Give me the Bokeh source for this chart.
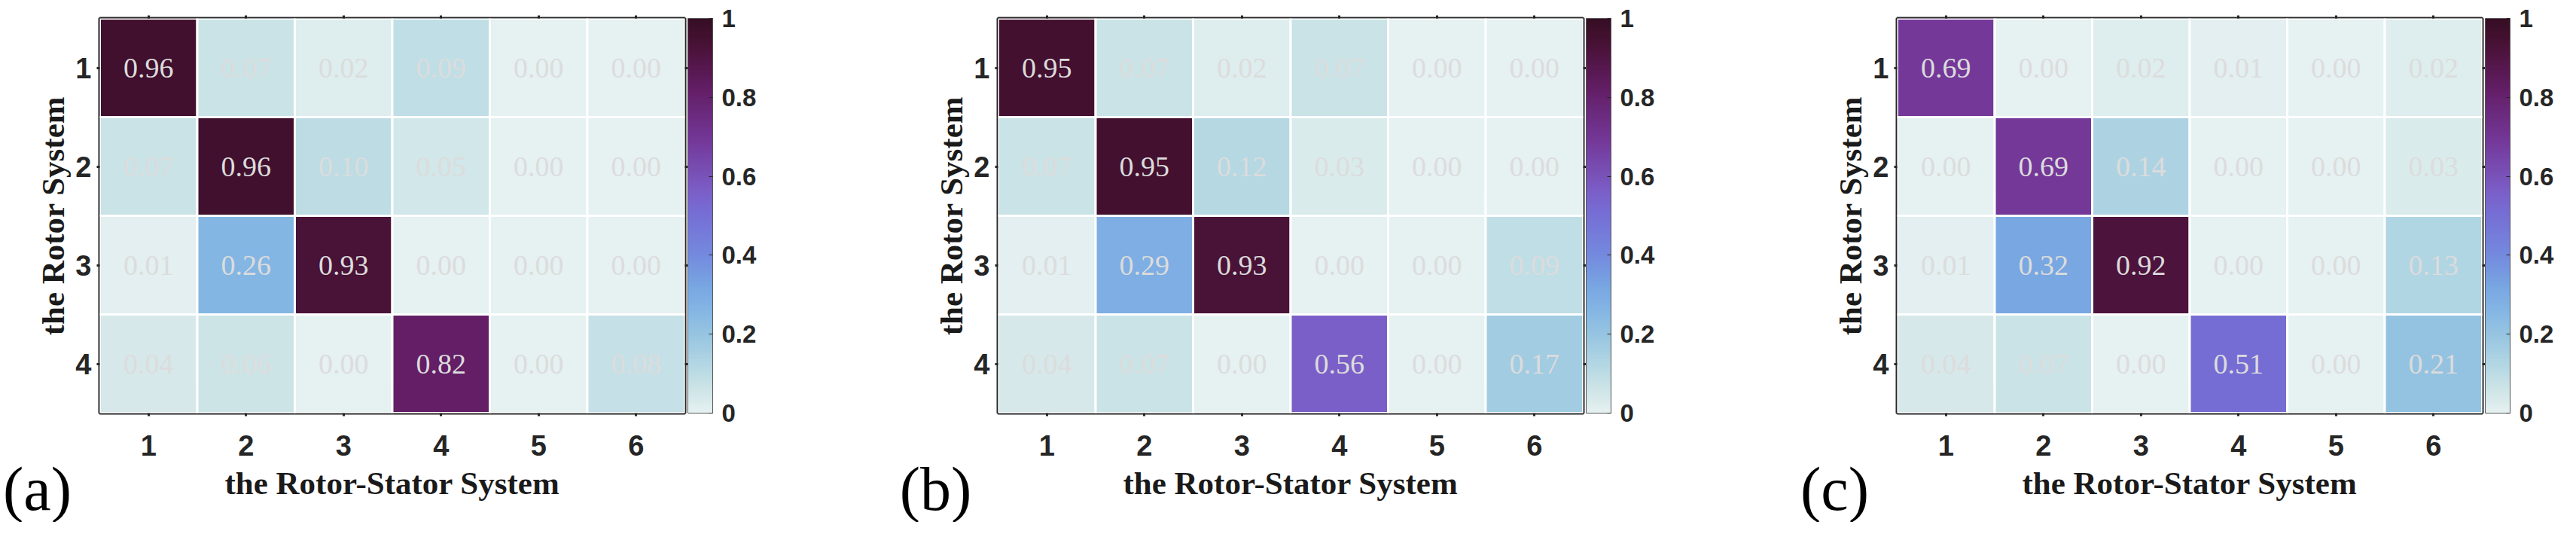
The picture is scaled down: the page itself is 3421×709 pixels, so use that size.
import numpy as np
from bokeh.plotting import figure
from bokeh.models import (ColumnDataSource, LinearColorMapper, ColorBar, FixedTicker,
                          LinearAxis, Range1d, NumeralTickFormatter)
from bokeh.layouts import row, column
from bokeh.transform import transform
from bokeh.core.properties import value
from bokeh.embed import file_html
from bokeh.resources import INLINE

# ---------------- data ----------------
stator_labels = ["1", "2", "3", "4", "5", "6"]   # x: the Rotor-Stator System
rotor_labels = ["1", "2", "3", "4"]              # y: the Rotor System

values_a = [
    [0.96, 0.07, 0.02, 0.09, 0.00, 0.00],
    [0.07, 0.96, 0.10, 0.05, 0.00, 0.00],
    [0.01, 0.26, 0.93, 0.00, 0.00, 0.00],
    [0.04, 0.06, 0.00, 0.82, 0.00, 0.08],
]
values_b = [
    [0.95, 0.07, 0.02, 0.07, 0.00, 0.00],
    [0.07, 0.95, 0.12, 0.03, 0.00, 0.00],
    [0.01, 0.29, 0.93, 0.00, 0.00, 0.09],
    [0.04, 0.07, 0.00, 0.56, 0.00, 0.17],
]
values_c = [
    [0.69, 0.00, 0.02, 0.01, 0.00, 0.02],
    [0.00, 0.69, 0.14, 0.00, 0.00, 0.03],
    [0.01, 0.32, 0.92, 0.00, 0.00, 0.13],
    [0.04, 0.07, 0.00, 0.51, 0.00, 0.21],
]
panel_tags = ["(a)", "(b)", "(c)"]
cbar_ticks = [0, 0.2, 0.4, 0.6, 0.8, 1]

# ---------------- colour map (approx. cmocean "dense") ----------------
stop_pos = [0.00, 0.05, 0.10, 0.15, 0.20, 0.26, 0.32, 0.40, 0.51, 0.56, 0.69, 0.82, 0.93, 0.96, 1.00]
stop_rgb = [(230, 241, 241), (209, 230, 232), (188, 220, 228), (168, 208, 226), (150, 196, 225),
            (132, 182, 228), (120, 166, 226), (116, 138, 222), (118, 109, 212), (123, 95, 200),
            (116, 56, 153), (99, 30, 102), (74, 18, 56), (65, 16, 46), (54, 14, 36)]
grid_t = np.linspace(0, 1, 256)
chan = [np.interp(grid_t, stop_pos, [c[k] for c in stop_rgb]) for k in range(3)]
palette = ["#%02x%02x%02x" % (int(round(r)), int(round(g)), int(round(b)))
           for r, g, b in zip(*chan)]

DARK = "#262626"
FRAME_W, FRAME_H = 777, 524
FRAME_LEFT, FRAME_TOP = 132, 24
FIG_H = 693
widths = [1193, 1194, 1018]
TAG_Y = 649


def make_panel(vals, width):
    mapper = LinearColorMapper(palette=palette, low=0, high=1)
    xs, ys, vs, ts = [], [], [], []
    for i in range(len(rotor_labels)):
        for j in range(len(stator_labels)):
            xs.append(j + 1)
            ys.append(i + 1)
            vs.append(vals[i][j])
            ts.append("%.2f" % vals[i][j])
    src = ColumnDataSource(dict(x=xs, y=ys, v=vs, t=ts))

    p = figure(output_backend="svg", toolbar_location=None, tools="", title=None,
               width=width, height=FIG_H,
               x_range=Range1d(0.5, 6.5), y_range=Range1d(4.5, 0.5),
               min_border_left=FRAME_LEFT, min_border_right=width - FRAME_LEFT - FRAME_W,
               min_border_top=FRAME_TOP, min_border_bottom=FIG_H - FRAME_TOP - FRAME_H)
    p.background_fill_color = "white"
    p.border_fill_color = "white"
    p.outline_line_color = DARK
    p.outline_line_width = 4
    p.xgrid.grid_line_color = None
    p.ygrid.grid_line_color = None

    p.rect(x="x", y="y", width=1, height=1, source=src,
           fill_color=transform("v", mapper), line_color="white", line_width=3)
    p.text(x="x", y="y", text="t", source=src,
           text_font=value("Liberation Serif"), text_font_size="38px",
           text_color="#dcdcdc", text_align="center", text_baseline="middle")

    for ax, labels in ((p.xaxis[0], stator_labels), (p.yaxis[0], rotor_labels)):
        ticks = list(range(1, len(labels) + 1))
        ax.ticker = FixedTicker(ticks=ticks)
        ax.major_label_overrides = {k: lab for k, lab in zip(ticks, labels)}
        ax.axis_line_color = None
        ax.major_tick_out = 4
        ax.major_tick_in = 0
        ax.major_tick_line_width = 3
        ax.major_tick_line_color = DARK
        ax.minor_tick_line_color = None
        ax.major_label_text_font = "Liberation Sans"
        ax.major_label_text_font_style = "bold"
        ax.major_label_text_font_size = "38px"
        ax.major_label_text_color = DARK
        ax.axis_label_text_font = "Liberation Serif"
        ax.axis_label_text_font_style = "bold"
        ax.axis_label_text_font_size = "43px"
        ax.axis_label_text_color = "#1a1a1a"
    p.xaxis[0].axis_label = "the Rotor-Stator System"
    p.yaxis[0].axis_label = "the Rotor System"
    p.xaxis[0].major_label_standoff = 25
    p.xaxis[0].axis_label_standoff = 10
    p.yaxis[0].major_label_standoff = 7
    p.yaxis[0].axis_label_standoff = 3

    # mirrored ticks on top and right (no labels)
    top_ticks = list(range(1, len(stator_labels) + 1))
    ax_top = LinearAxis(ticker=FixedTicker(ticks=top_ticks),
                        major_label_overrides={k: "" for k in top_ticks},
                        major_label_text_font_size="2px", major_label_standoff=0,
                        axis_line_color=None, major_tick_out=4, major_tick_in=0,
                        major_tick_line_width=3, major_tick_line_color=DARK,
                        minor_tick_line_color=None)
    p.add_layout(ax_top, "above")
    right_ticks = list(range(1, len(rotor_labels) + 1))
    ax_right = LinearAxis(ticker=FixedTicker(ticks=right_ticks),
                          major_label_overrides={k: "" for k in right_ticks},
                          major_label_standoff=0,
                          axis_line_color=None, major_tick_out=4, major_tick_in=0,
                          minor_tick_out=11, minor_tick_in=0,
                          major_tick_line_width=3, major_tick_line_color=DARK,
                          minor_tick_line_color=None)
    p.add_layout(ax_right, "right")

    cb = ColorBar(color_mapper=mapper, ticker=FixedTicker(ticks=cbar_ticks),
                  formatter=NumeralTickFormatter(format="0.[0]"),
                  label_standoff=12, width=33, padding=0, margin=0,
                  major_label_text_font="Liberation Sans",
                  major_label_text_font_style="bold",
                  major_label_text_font_size="33px",
                  major_label_text_color=DARK,
                  major_tick_line_color=DARK, major_tick_in=5, major_tick_out=0,
                  minor_tick_line_color=None,
                  bar_line_color="#555555", bar_line_width=1,
                  border_line_color=None, background_fill_alpha=0)
    p.add_layout(cb, "right")
    return p


panels = [make_panel(v, w) for v, w in zip((values_a, values_b, values_c), widths)]

# transparent overlay carrying the panel letters (they lie outside the heatmap frames)
total_w = sum(widths)
tag_x = [sum(widths[:k]) + FRAME_LEFT - 83 for k in range(len(panel_tags))]
tag_src = ColumnDataSource(dict(x=tag_x, y=[TAG_Y] * len(panel_tags), t=panel_tags))
overlay = figure(output_backend="svg", toolbar_location=None, tools="", title=None,
                 width=total_w, height=FIG_H, min_border=0,
                 x_range=Range1d(0, total_w), y_range=Range1d(FIG_H, 0),
                 x_axis_location=None, y_axis_location=None)
overlay.background_fill_alpha = 0
overlay.border_fill_alpha = 0
overlay.outline_line_color = None
overlay.grid.visible = False
overlay.text(x="x", y="y", text="t", source=tag_src,
             text_font=value("Liberation Serif"), text_font_size="82px",
             text_align="center", text_baseline="alphabetic", text_color="black")
overlay.margin = (-FIG_H, 0, 0, 0)

layout = column(row(*panels), overlay)
open("out.html", "w").write(file_html(layout, INLINE))
